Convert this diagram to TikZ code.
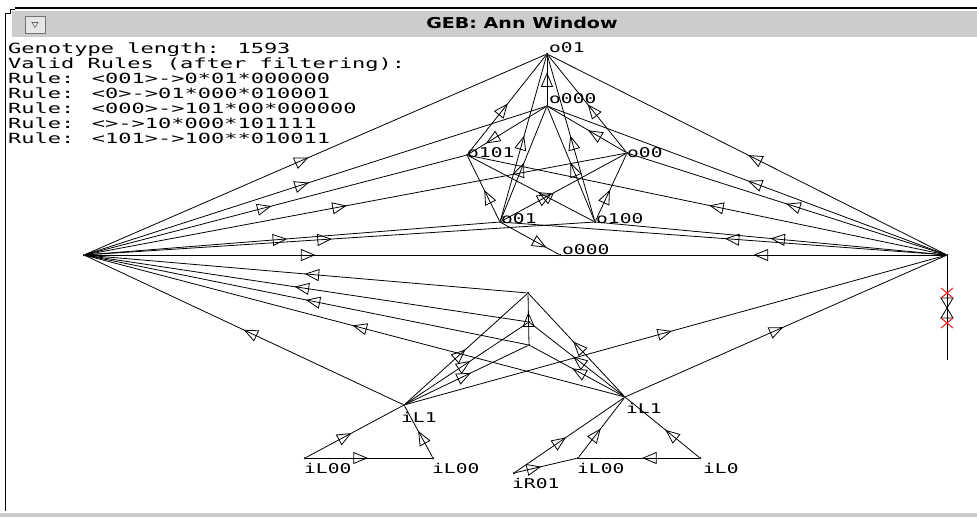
\documentclass[tikz,border=0pt]{standalone}
\usepackage{fontspec}
\usetikzlibrary{arrows.meta, decorations.markings, calc}
\newfontfamily\monaco[FakeStretch=1.57]{DejaVu Sans Mono}
\newfontfamily\monlbl[FakeStretch=1.45]{DejaVu Sans Mono}
\newfontfamily\chicago[FakeStretch=1.27]{DejaVu Sans}
\definecolor{barfill}{RGB}{204,204,204}
\definecolor{xred}{RGB}{240,30,30}

\begin{document}
\begin{tikzpicture}[x=1pt, y=-1pt,
  wire/.style={line width=0.8pt},
  sig/.style={postaction={decorate}, decoration={markings,
      mark=at position #1 with {\draw[line width=0.8pt] (6.5pt,0) -- (-6.5pt,5.5pt) -- (-6.5pt,-5.5pt) -- cycle;}}},
  unit/.style={circle, fill, inner sep=0pt, minimum size=2.5pt},
  txt/.style={font=\monaco\fontsize{14}{15}\selectfont, inner sep=0pt, anchor=base west},
  lbl/.style={font=\monlbl\fontsize{13.5}{14}\selectfont, inner sep=0pt, anchor=base west},
  xmark/.style={xred, line width=1pt}]
  \useasboundingbox (0,0) rectangle (977,517);

  % window frame
  \fill[barfill] (12,11) rectangle (977,37);
  \draw[line width=2.5pt] (15,8) -- (977,8);
  \draw[line width=1pt] (5,511) -- (5,13) -- (10,13) -- (10,9) -- (15,9);
  \fill[barfill] (0,513) rectangle (977,517);
  \node[draw=black!55, fill=barfill!50, minimum width=20pt, minimum height=17pt, inner sep=0pt] (btn) at (35,24.5) {};
  \draw[black!60, line width=0.6pt] ($(btn.center)+(-3,-2)$) -- ++(6,0) -- ++(-3,5) -- cycle;
  \node[font=\chicago\bfseries\fontsize{15}{16}\selectfont, inner sep=0pt] (title) at (522,23) {GEB: Ann Window};

  % genotype text
  \foreach \line [count=\i from 0] in {Genotype length: 1593, Valid Rules (after filtering):,
      Rule: <001>->0*01*000000, Rule: <0>->01*000*010001, Rule: <000>->101*00*000000,
      Rule: <>->10*000*101111, Rule: <101>->100**010011}
    \node[txt] (gtxt\i) at (8,{53+15.1*\i}) {\line};

  % units
  \node[unit] (A) at (547,54) {};
  \node[unit] (B) at (547,106) {};
  \node[unit] (C) at (467,155) {};
  \node[unit] (D) at (627,153) {};
  \node[unit] (E) at (500,222) {};
  \node[unit] (F) at (595,222) {};
  \node[unit] (G) at (560,255) {};
  \node[unit] (L) at (84,255) {};
  \node[unit] (R) at (947,255) {};
  \node[unit] (H) at (528,293) {};
  \node[unit] (P) at (529,322) {};
  \node[unit] (J) at (529,345) {};
  \node[unit] (M) at (404,405) {};
  \node[unit] (N) at (625,397) {};
  \node[unit] (Ia) at (305,458) {};
  \node[unit] (Ib) at (433,458) {};
  \node[unit] (Ic) at (514,473) {};
  \node[unit] (Id) at (578,458) {};
  \node[unit] (Ie) at (700,458) {};
  \coordinate (Rend) at (947,360);

  \node[lbl] (A-t) at (549,52) {o01};
  \node[lbl] (B-t) at (549,103) {o000};
  \node[lbl] (C-t) at (467,157) {o101};
  \node[lbl] (D-t) at (627,157) {o00};
  \node[lbl] (E-t) at (501,223) {o01};
  \node[lbl] (F-t) at (596,223) {o100};
  \node[lbl] (G-t) at (562,254) {o000};
  \node[lbl] (M-t) at (401,422) {iL1};
  \node[lbl] (N-t) at (626,413) {iL1};
  \node[lbl] (Ia-t) at (304,473) {iL00};
  \node[lbl] (Ib-t) at (432,473) {iL00};
  \node[lbl] (Ic-t) at (512,488) {iR01};
  \node[lbl] (Id-t) at (577,473) {iL00};
  \node[lbl] (Ie-t) at (703,473) {iL0};

  % hubs to outputs
  \foreach \o in {A,B,C,D,E,F,G} {
    \draw[wire, sig=.47] (L) -- (\o);
    \draw[wire, sig=.48] (R) -- (\o);
  }

  % among outputs
  \draw[wire, sig=.5] (B) -- (A);
  \draw[wire, sig=.45] (C) -- (A);
  \draw[wire, sig=.43] (D) -- (A);
  \draw[wire, sig=.47] (E) -- (A);
  \draw[wire, sig=.47] (F) -- (A);
  \draw[wire, sig=.45] (E) -- (B);
  \draw[wire, sig=.45] (F) -- (B);
  \draw[wire, sig=.69] (B) -- (C);
  \draw[wire, sig=.4] (D) -- (B);
  \draw[wire, sig=.37] (E) -- (C);
  \draw[wire, sig=.36] (F) -- (D);
  \draw[wire, sig=.39] (F) -- (C);
  \draw[wire, sig=.35] (E) -- (D);
  \draw[wire, sig=.67] (E) -- (G);

  % hidden part
  \draw[wire, sig=.486] (H) -- (L);
  \draw[wire, sig=.51] (P) -- (L);
  \draw[wire, sig=.485] (J) -- (L);
  \draw[wire, sig=.49] (N) -- (L);
  \draw[wire, sig=.48] (M) -- (L);
  \draw[wire, sig=.48] (M) -- (R);
  \draw[wire, sig=.47] (N) -- (R);
  \draw[wire, sig=.48] (J) -- (H);
  \draw[wire, sig=.45] (M) -- (H);
  \draw[wire, sig=.48] (M) -- (P);
  \draw[wire, sig=.48] (M) -- (J);
  \draw[wire, sig=.48] (N) -- (H);
  \draw[wire, sig=.48] (N) -- (P);
  \draw[wire, sig=.48] (N) -- (J);

  % inputs
  \draw[wire, sig=.4] (Ia) -- (M);
  \draw[wire, sig=.43] (Ia) -- (Ib);
  \draw[wire, sig=.38] (Ib) -- (M);
  \draw[wire, sig=.41] (Ic) -- (N);
  \draw[wire, sig=.3] (Ic) -- (Id);
  \draw[wire, sig=.38] (Id) -- (N);
  \draw[wire, sig=.41] (Ie) -- (Id);
  \draw[wire, sig=.38] (Ie) -- (N);

  % right lead with marks
  \draw[wire] (R) -- (Rend);
  \draw[line width=0.8pt] (941,298) -- (953,298) -- (947,308) -- cycle;
  \draw[line width=0.8pt] (947,308) -- (941,318) -- (953,318) -- cycle;
  \draw[xmark] (941,288) -- (953,298) (953,288) -- (941,298);
  \draw[xmark] (941,318) -- (953,328) (953,318) -- (941,328);
\end{tikzpicture}
\end{document}
